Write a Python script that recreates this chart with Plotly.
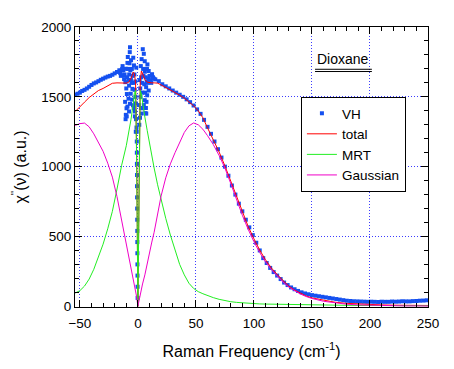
import plotly.graph_objects as go

# ---- fit curves (shared frequency grid) ----
freq = [-54, -50, -46, -42, -38, -34, -30, -26, -22, -18, -14, -10,
        -8, -6, -4, -3, -2, -1, 0, 1, 2, 3, 4,
        6, 8, 10, 12, 14, 17, 20,
        24, 28, 32, 36, 40, 44, 48, 52, 56, 60,
        65, 70, 75, 80, 85, 90, 95, 100, 105, 110, 115, 120, 125, 130, 135, 140, 145, 150,
        160, 170, 180, 190, 200, 210, 220, 230, 240, 250]

total = [1395, 1425, 1462, 1495, 1522, 1545, 1560, 1578, 1597, 1600, 1598, 1598,
         1604, 1630, 1678, 1668, 1600, 1060, 0, 1050, 1610, 1685, 1660,
         1625, 1605, 1600, 1600, 1600, 1598, 1585,
         1567, 1552, 1534, 1512, 1490, 1462, 1436, 1400, 1350, 1278,
         1195, 1105, 1005, 895, 780, 672, 572, 483, 402, 333, 275, 228, 184, 145, 116, 92, 74, 60,
         42, 29, 21, 16, 12, 10, 8, 7, 6, 6]

mrt = [95, 112, 145, 195, 265, 355, 445, 555, 680, 840, 1010, 1150,
       1235, 1335, 1450, 1530, 1545, 1000, 0, 1000, 1545, 1520, 1460,
       1355, 1260, 1160, 1070, 990, 870, 760,
       630, 510, 400, 300, 225, 165, 128, 105, 90, 76,
       62, 50, 40, 33, 28, 24, 21, 19, 17, 16, 15, 14, 13, 12, 11, 10, 10, 9,
       8, 7, 7, 6, 6, 5, 5, 5, 4, 4]

gaussian = [1295, 1308, 1312, 1285, 1235, 1175, 1110, 1025, 925, 785, 615, 455,
            370, 285, 205, 165, 120, 65, 0, 45, 90, 125, 160,
            225, 310, 390, 460, 530, 660, 790,
            920, 1020, 1100, 1175, 1245, 1292, 1313, 1300, 1268, 1222,
            1158, 1080, 990, 880, 765, 652, 552, 462, 385, 318, 262, 215, 174, 138, 110, 88, 70, 56,
            36, 23, 15, 10, 7, 5, 4, 3, 3, 2]

# ---- VH measured data ----
vh_left_x = [-54, -52, -50, -48, -46, -44, -42, -40, -38, -36, -34, -32, -30, -28, -26, -24, -22, -20, -18, -16]
vh_left_y = [1515, 1522, 1530, 1542, 1550, 1560, 1572, 1585, 1596, 1603, 1612, 1622, 1630, 1638, 1645, 1650, 1658, 1668, 1678, 1690]

vh_mid_x = [-6.8, -7.0, 4.2, 5.1, -8.7, -5.9, -9.0, 5.9, 8.2, -13.2, -10.4, -3.4, -1.4, 2.5, 9.3, 12.2,
            -14.7, -11.9, -7.6, -4.7, -6.2, -8.1, 7.1, 9.3, 8.0, 5.9, -1.9, 0.8, -9.0, 4.2, -2.5, 6.5,
            -11.0, -9.8, -10.4, -7.6, 7.4, 5.1,
            -12.5, -11.5, -10.8, -10.0, -9.5, -9.2, -8.5, -8.2, -7.5, -7.2, -6.5, -6.0, -5.5, -5.2, -4.5,
            -4.0, -3.8, -3.0, -2.8, -2.2, -2.0, -1.6, -1.2, 1.2, 1.5, 2.0, 2.2, 2.8, 3.2, 3.5, 3.8, 4.5,
            4.8, 5.5, 6.0, 6.2, 6.8, 7.5, 7.8, 8.5, 9.0, 10.0, 10.5, 11.0, 11.5, 13.0, 13.8, -14.0, -15.2,
            -13.5, -12.0, -3.6, -2.6, -1.8, 1.8, 2.6, 3.1, -5.0, -4.2, -6.8, 6.9, 7.2, -9.6, -10.6]
vh_mid_y = [1855, 1820, 1841, 1808, 1785, 1762, 1743, 1755, 1732, 1720, 1701, 1725, 1709, 1720, 1685, 1662,
            1650, 1627, 1580, 1557, 1522, 1487, 1569, 1545, 1511, 1476, 1453, 1441, 1430, 1418, 1395, 1383,
            1464, 1418, 1371, 1395, 1464, 1441,
            1690, 1660, 1605, 1560, 1520, 1640, 1700, 1620, 1660, 1740, 1690, 1620, 1600, 1700, 1650,
            1780, 1600, 1660, 1550, 1610, 1500, 1340, 1280, 1300, 1620, 1560, 1500, 1640, 1770, 1600, 1530, 1700,
            1650, 1590, 1680, 1530, 1640, 1610, 1700, 1600, 1630, 1650, 1610, 1620, 1600, 1640, 1630, 1690, 1670,
            1700, 1655, 1420, 1360, 1250, 1350, 1420, 1380, 1480, 1440, 1450, 1420, 1380, 1360, 1340]

vh_drop_x = [-1.0, -0.95, -0.9, -0.85, -0.8, -0.75, -0.7, -0.65, -0.6, -0.55, -0.5, -0.45, -0.4, -0.35, -0.3, -0.25]
vh_drop_y = [1250, 1180, 1100, 1020, 940, 860, 780, 700, 620, 540, 460, 380, 300, 220, 140, 60]

vh_right_x = [15, 18, 21, 24, 27, 30, 33, 36, 39, 42, 45, 48, 51, 54, 57, 60, 63, 66, 69, 72, 75, 78, 81, 84, 87,
              90, 93, 96, 99, 102, 105, 108, 111, 114, 117, 120, 123, 126, 129, 132, 135, 138, 141, 144, 147,
              150, 153, 156, 159, 162, 165, 168, 171, 174, 177, 180, 183, 186, 189, 192, 195, 198, 201, 204,
              207, 210, 213, 216, 219, 222, 225, 228, 231, 234, 237, 240, 243, 246, 249]
vh_right_y = [1625, 1612, 1590, 1575, 1560, 1545, 1530, 1515, 1500, 1482, 1462, 1438, 1410, 1378, 1335, 1285,
              1235, 1180, 1125, 1065, 1000, 935, 865, 800, 735, 680, 620, 565, 510, 455, 400, 345, 310, 275,
              245, 220, 195, 170, 152, 135, 122, 110, 100, 92, 86, 80, 76, 72, 68, 64, 60, 56, 52, 48, 44,
              40, 38, 36, 35, 34, 33, 32, 33, 32, 31, 33, 32, 32, 34, 33, 34, 36, 35, 35, 37, 38, 40, 41, 43]

vh_x = vh_left_x + vh_mid_x + vh_drop_x + vh_right_x
vh_y = vh_left_y + vh_mid_y + vh_drop_y + vh_right_y

x_ticks = [-50, 0, 50, 100, 150, 200, 250]
y_ticks = [0, 500, 1000, 1500, 2000]

FONT = "Liberation Sans, Arial, Helvetica, sans-serif"

fig = go.Figure()
fig.add_trace(go.Scatter(x=vh_x, y=vh_y, mode="markers", name="VH",
                         marker=dict(symbol="square", size=4, color="#1450f0", line=dict(width=0))))
fig.add_trace(go.Scatter(x=freq, y=total, mode="lines", name="total",
                         line=dict(color="#ff0000", width=1)))
fig.add_trace(go.Scatter(x=freq, y=mrt, mode="lines", name="MRT",
                         line=dict(color="#22ee22", width=1)))
fig.add_trace(go.Scatter(x=freq, y=gaussian, mode="lines", name="Gaussian",
                         line=dict(color="#f000c8", width=1)))

axis_common = dict(
    showline=True, linecolor="black", linewidth=1, mirror="allticks",
    ticks="inside", ticklen=7, tickcolor="black", tickwidth=1,
    showgrid=True, gridcolor="#3c3cff", griddash="1px,2px", gridwidth=1,
    zeroline=False,
    tickfont=dict(family=FONT, size=13.5, color="black"),
)

fig.update_xaxes(
    range=[-54.2, 250], tickvals=x_ticks, ticklabelstandoff=4,
    minor=dict(ticks="inside", ticklen=4, dtick=10, tick0=0, tickcolor="black", showgrid=False),
    title=dict(text="Raman Frequency (cm<sup>-1</sup>)", font=dict(family=FONT, size=16, color="black"), standoff=15),
    **axis_common)
fig.update_yaxes(
    range=[-5, 2000], tickvals=y_ticks,
    minor=dict(ticks="inside", ticklen=4, dtick=100, tick0=0, tickcolor="black", showgrid=False),
    title=dict(text="χ<sup>''</sup>(ν) (a.u.)", font=dict(family=FONT, size=16, color="black"), standoff=10),
    **axis_common)

fig.update_layout(
    width=446, height=361,
    margin=dict(l=60, r=26, t=18, b=56, pad=0),
    paper_bgcolor="white", plot_bgcolor="white",
    showlegend=True,
    legend=dict(x=0.64, y=0.75, xanchor="left", yanchor="top",
                bgcolor="white", bordercolor="black", borderwidth=1,
                font=dict(family=FONT, size=13.5, color="black"),
                tracegroupgap=0, itemwidth=30),
    annotations=[dict(text="Dioxane", x=0.758, y=0.885, xref="paper", yref="paper",
                      xanchor="center", yanchor="middle",
                      showarrow=False, font=dict(family=FONT, size=14, color="black"))],
    shapes=[
        dict(type="line", xref="paper", yref="paper", x0=0.680, x1=0.841, y0=0.849, y1=0.849,
             line=dict(color="black", width=1)),
        dict(type="line", xref="paper", yref="paper", x0=0.680, x1=0.841, y0=0.841, y1=0.841,
             line=dict(color="black", width=1)),
    ],
)

fig.write_html("out.html")
